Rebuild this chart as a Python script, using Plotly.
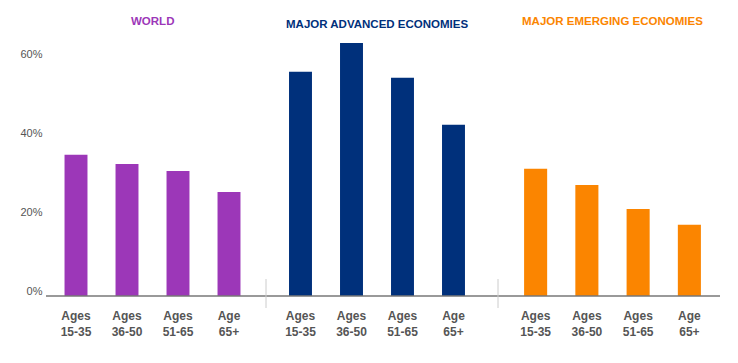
import plotly.graph_objects as go
from plotly.subplots import make_subplots

groups = ["WORLD", "MAJOR ADVANCED ECONOMIES", "MAJOR EMERGING ECONOMIES"]
age_line1 = ["Ages", "Ages", "Ages", "Age"]
age_line2 = ["15-35", "36-50", "51-65", "65+"]
world = [35.7, 33.4, 31.6, 26.3]
advanced = [56.7, 64.0, 55.2, 43.3]
emerging = [32.2, 28.1, 22.0, 18.0]
y_ticks = [0, 20, 40, 60]
y_tick_labels = ["0%", "20%", "40%", "60%"]

colors = ["#9C37B8", "#00307B", "#FB8500"]
W, H = 738, 363
OFF = 8  # page body margin offset
domains = [(50.5 - OFF, 254.5 - OFF), (275 - OFF, 479 - OFF), (510 - OFF, 715 - OFF)]
title_shift = [14, 11, 14]

cats = [f"<b>{a}<br>{b}</b>" for a, b in zip(age_line1, age_line2)]

fig = make_subplots(rows=1, cols=3, shared_yaxes=True, horizontal_spacing=0.02)
for i, vals in enumerate([world, advanced, emerging]):
    fig.add_trace(go.Bar(x=cats, y=vals, marker=dict(color=colors[i], line=dict(width=0)),
                         showlegend=False, hoverinfo="skip"), row=1, col=i + 1)

fig.update_layout(width=W, height=H, margin=dict(l=0, r=0, t=35 - OFF, b=67 + OFF, autoexpand=False),
                  paper_bgcolor="white", plot_bgcolor="white", bargap=0.55,
                  font=dict(family="Liberation Sans, Arial, sans-serif", size=11, color="#555"))

for i in range(3):
    ax = "xaxis" if i == 0 else f"xaxis{i+1}"
    fig.layout[ax].update(domain=[domains[i][0] / W, domains[i][1] / W], showgrid=False,
                          showline=False, ticks="", tickfont=dict(size=12, color="#555"),
                          ticklabelstandoff=11, automargin=False)
    yax = "yaxis" if i == 0 else f"yaxis{i+1}"
    fig.layout[yax].update(range=[0, 66], showgrid=False, zeroline=False, showline=False,
                           tickvals=y_ticks, ticktext=y_tick_labels, ticks="",
                           tickfont=dict(size=11, color="#555"), automargin=False)
    fig.add_annotation(text=f"<b>{groups[i]}</b>", xref=f"x{'' if i == 0 else i+1} domain",
                       x=0.5, yref="paper", y=1, yanchor="middle", yshift=title_shift[i],
                       showarrow=False, font=dict(size=11.5, color=colors[i]))

fig.layout.yaxis.update(ticklabelstandoff=7, ticklabelshift=-5)

fig.add_shape(type="line", xref="paper", yref="paper", x0=(46 - OFF) / W, x1=(720 - OFF) / W,
              y0=0, y1=0, line=dict(color="#777", width=1.5))
for xd in [266, 498]:
    fig.add_shape(type="line", xref="paper", yref="paper", x0=(xd - OFF) / W, x1=(xd - OFF) / W,
                  y0=-0.046, y1=0.065, line=dict(color="#ccc", width=1))

fig.write_html("out.html")
